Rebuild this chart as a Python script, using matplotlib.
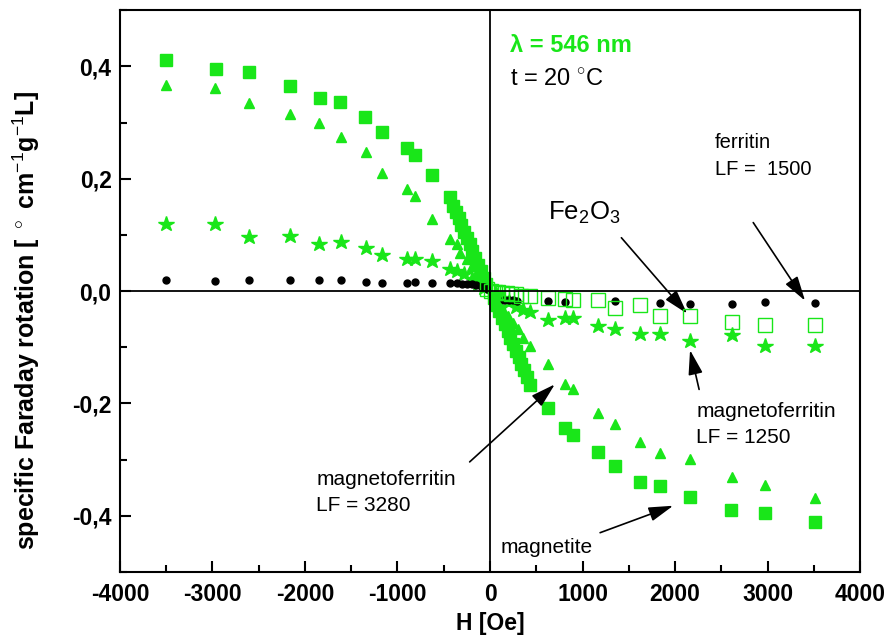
import matplotlib
matplotlib.use("Agg")
import matplotlib.pyplot as plt
from matplotlib.ticker import MultipleLocator, FuncFormatter

plt.rcParams['font.family'] = ['Liberation Sans', 'DejaVu Sans']
plt.rcParams['mathtext.fontset'] = 'custom'
plt.rcParams['mathtext.rm'] = 'Liberation Sans'
plt.rcParams['mathtext.bf'] = 'Liberation Sans:bold'

GREEN = '#19e619'

# magnetite (filled squares)
H_magnetite = [-3506, -2966, -2609, -2159, -1838, -1622, -1348, -1168, -900, -807, -630, -432,
               -400, -370, -340, -310, -280, -250, -220, -190, -160, -130, -100, -70, -40,
               40, 70, 100, 130, 160, 190, 220, 250, 280, 310, 340, 370, 400,
               432, 631, 811, 901, 1171, 1351, 1622, 1838, 2162, 2610, 2970, 3510]
R_magnetite = [0.411, 0.395, 0.390, 0.365, 0.343, 0.336, 0.310, 0.283, 0.255, 0.243, 0.207, 0.167,
               0.152, 0.141, 0.130, 0.118, 0.106, 0.095, 0.083, 0.071, 0.059, 0.047, 0.036, 0.024, 0.013,
               -0.013, -0.024, -0.036, -0.047, -0.059, -0.071, -0.083, -0.095, -0.106, -0.118, -0.130, -0.141, -0.152,
               -0.167, -0.208, -0.244, -0.256, -0.286, -0.312, -0.339, -0.347, -0.366, -0.390, -0.395, -0.411]

# magnetoferritin LF = 3280 (triangles)
H_mf3280 = [-3506, -2973, -2609, -2159, -1845, -1614, -1344, -1164, -901, -807, -631, -432,
            -360, -324, -245, -198, -144, -108, -60,
            60, 108, 144, 198, 245, 300, 360,
            432, 631, 811, 901, 1171, 1351, 1622, 1838, 2162, 2613, 2973, 3514]
R_mf3280 = [0.367, 0.361, 0.335, 0.315, 0.299, 0.274, 0.248, 0.211, 0.181, 0.170, 0.129, 0.093,
            0.083, 0.068, 0.057, 0.045, 0.034, 0.027, 0.015,
            -0.015, -0.027, -0.034, -0.045, -0.057, -0.068, -0.083,
            -0.098, -0.130, -0.165, -0.174, -0.217, -0.237, -0.268, -0.289, -0.299, -0.330, -0.345, -0.369]

# magnetoferritin LF = 1250 (stars)
H_mf1250 = [-3506, -2973, -2609, -2159, -1845, -1614, -1344, -1164, -901, -807, -631, -432,
            -353, -280, -200, -130, -60,
            60, 130, 200, 280, 353,
            432, 631, 811, 901, 1171, 1351, 1622, 1838, 2162, 2613, 2973, 3514]
R_mf1250 = [0.119, 0.119, 0.097, 0.098, 0.083, 0.0875, 0.077, 0.064, 0.058, 0.058, 0.054, 0.039,
            0.036, 0.030, 0.022, 0.013, 0.005,
            -0.006, -0.013, -0.020, -0.028, -0.034,
            -0.037, -0.052, -0.048, -0.048, -0.0625, -0.068, -0.077, -0.0755, -0.088, -0.0786, -0.098, -0.098]

# ferritin LF = 1500 (black circles)
H_ferritin = [-3506, -2973, -2609, -2159, -1845, -1614, -1344, -1164, -901, -807, -631, -432,
              -353, -300, -250, -200, -150, -100, -60, -30,
              150, 200, 250, 290,
              631, 811, 1351, 1838, 2162, 2613, 2973, 3514]
R_ferritin = [0.019, 0.0185, 0.020, 0.020, 0.019, 0.019, 0.017, 0.015, 0.015, 0.017, 0.015, 0.014,
              0.014, 0.013, 0.013, 0.012, 0.011, 0.009, 0.007, 0.004,
              -0.015, -0.016, -0.016, -0.017,
              -0.018, -0.019, -0.017, -0.022, -0.0226, -0.0226, -0.0196, -0.021]

# Fe2O3 (open squares)
H_fe2o3 = [-30, 10, 50, 90, 130, 180, 230, 280, 330,
           432, 631, 811, 901, 1171, 1351, 1622, 1838, 2162, 2613, 2973, 3514]
R_fe2o3 = [0.003, 0.001, -0.001, -0.002, -0.003, -0.004, -0.005, -0.006, -0.008,
           -0.009, -0.012, -0.0137, -0.015, -0.015, -0.030, -0.024, -0.045, -0.045, -0.055, -0.0595, -0.061]

x_ticks = [-4000, -3000, -2000, -1000, 0, 1000, 2000, 3000, 4000]
y_ticks = [-0.4, -0.2, 0.0, 0.2, 0.4]

fig = plt.figure(figsize=(8.95, 6.37), dpi=100)
ax = fig.add_axes([0.134, 0.102, 0.827, 0.882])

ax.plot(H_magnetite, R_magnetite, ls='none', marker='s', ms=8.5, color=GREEN, mec=GREEN, zorder=3)
ax.plot(H_mf3280, R_mf3280, ls='none', marker='^', ms=6.5, color=GREEN, mec=GREEN, zorder=3)
ax.plot(H_mf1250, R_mf1250, ls='none', marker='*', ms=11.5, color=GREEN, mec=GREEN, zorder=3)
ax.plot(H_ferritin, R_ferritin, ls='none', marker='o', ms=5, color='black', mec='black', zorder=4)
ax.plot(H_fe2o3, R_fe2o3, ls='none', marker='s', ms=9.5, mfc='none', mec=GREEN, mew=1.0, zorder=4)

ax.axhline(0, color='black', lw=1.3, zorder=5)
ax.axvline(0, color='black', lw=1.3, zorder=5)

ax.set_xlim(-4000, 4000)
ax.set_ylim(-0.5, 0.5)
ax.set_xticks(x_ticks)
ax.set_yticks(y_ticks)
ax.xaxis.set_minor_locator(MultipleLocator(500))
ax.yaxis.set_minor_locator(MultipleLocator(0.1))
ax.xaxis.set_major_formatter(FuncFormatter(lambda v, p: f"{int(v)}"))
ax.yaxis.set_major_formatter(FuncFormatter(lambda v, p: f"{v:.1f}".replace('.', ',').replace('-0,0', '0,0')))
ax.tick_params(which='both', direction='in', width=1.5)
ax.tick_params(which='major', length=8, labelsize=16.5)
ax.tick_params(axis='x', which='major', pad=8)
ax.tick_params(axis='y', which='major', pad=6)
ax.tick_params(which='minor', length=5)
for lab in ax.get_xticklabels() + ax.get_yticklabels():
    lab.set_fontweight('bold')
for s in ax.spines.values():
    s.set_linewidth(1.5)

ax.set_xlabel('H [Oe]', fontsize=16.5, fontweight='bold', labelpad=4)
ax.set_ylabel(r'specific Faraday rotation [ $^\circ$ cm$^{-1}$g$^{-1}$L]', fontsize=18, fontweight='bold')
ax.yaxis.set_label_coords(-0.105, 0.447)

ax.text(216, 0.4375, 'λ = 546 nm', color=GREEN, fontsize=17, fontweight='bold', va='center', ha='left')
ax.text(216, 0.375, r't = 20 $^{\circ}$C', color='black', fontsize=17, va='center', ha='left')
ax.text(2430, 0.240, 'ferritin\nLF =  1500', fontsize=14.5, va='center', ha='left', linespacing=1.55)
ax.text(630, 0.140, r'Fe$_2$O$_3$', fontsize=18.5, va='center', ha='left')
ax.text(2230, -0.238, 'magnetoferritin\nLF = 1250', fontsize=15, va='center', ha='left', linespacing=1.45)
ax.text(-1880, -0.358, 'magnetoferritin\nLF = 3280', fontsize=15, va='center', ha='left', linespacing=1.45)
ax.text(110, -0.457, 'magnetite', fontsize=15, va='center', ha='left')

arrow = dict(arrowstyle='-|>,head_length=0.75,head_width=0.22', color='black', lw=1.2,
             mutation_scale=20, shrinkA=0, shrinkB=0)
ax.annotate('', xy=(2130, -0.040), xytext=(1420, 0.095), arrowprops=arrow)
ax.annotate('', xy=(3405, -0.017), xytext=(2845, 0.122), arrowprops=arrow)
ax.annotate('', xy=(2162, -0.105), xytext=(2260, -0.175), arrowprops=arrow)
ax.annotate('', xy=(700, -0.166), xytext=(-220, -0.304), arrowprops=arrow)
ax.annotate('', xy=(1980, -0.382), xytext=(1190, -0.430), arrowprops=arrow)

fig.savefig('out.png', dpi=100)
